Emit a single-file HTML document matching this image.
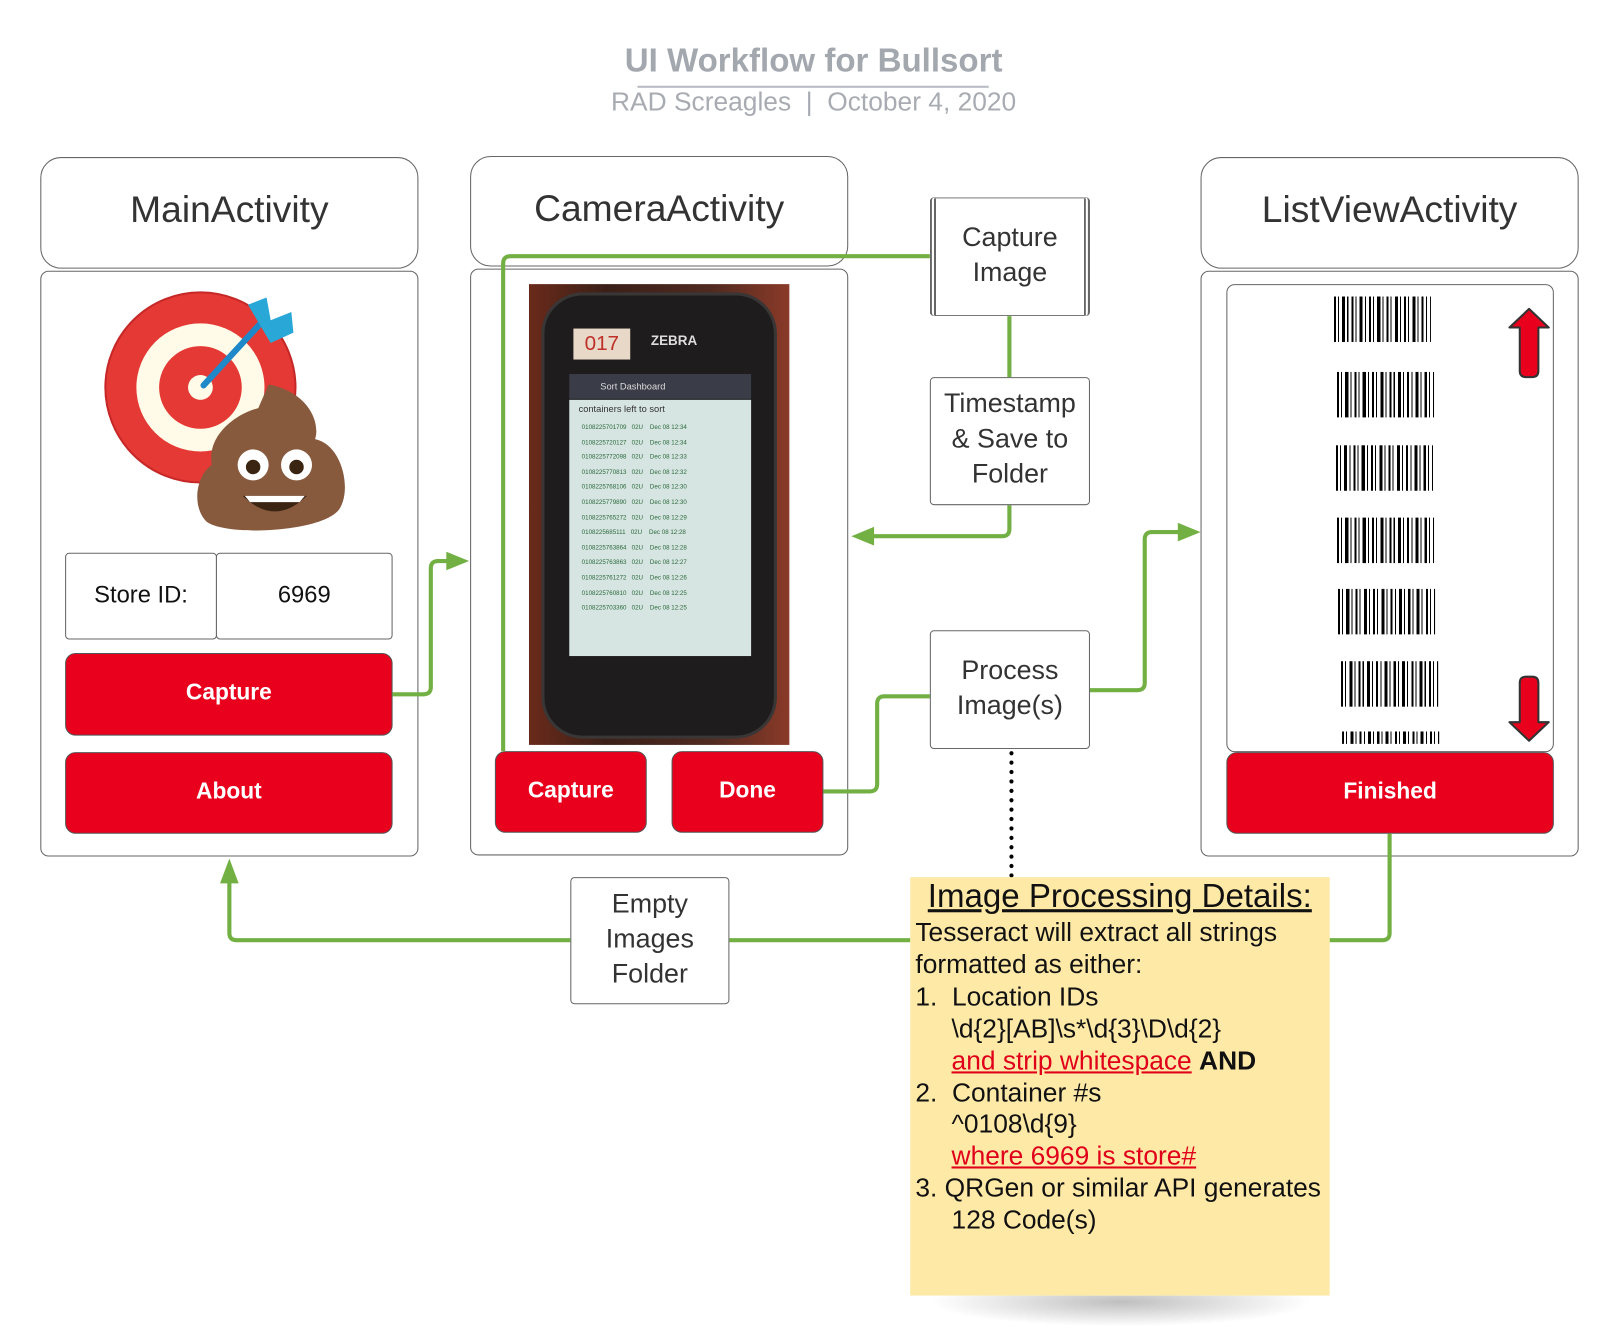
<!DOCTYPE html>
<html><head><meta charset="utf-8">
<style>
html,body{margin:0;padding:0;background:#fff;width:1620px;height:1337px;overflow:hidden;font-family:"Liberation Sans",sans-serif}
#w{position:absolute;left:0;top:0;width:1568px;height:1294px;transform:scale(1.03316);transform-origin:0 0}
.a{position:absolute;box-sizing:border-box}
.hdr{border:1.3px solid #666;border-radius:20px;background:#fff;display:flex;align-items:center;justify-content:center;font-size:36px;color:#333;padding-bottom:6px}
.body{border:1.3px solid #666;border-radius:8px;background:#fff}
.btn{background:#e8001c;border:1.3px solid #555;border-radius:10px;color:#fff;font-weight:bold;font-size:22px;display:flex;align-items:center;justify-content:center;padding-bottom:4px}
.box{border:1.3px solid #666;border-radius:4px;background:#fff;display:flex;align-items:center;justify-content:center;text-align:center;font-size:26px;line-height:34px;color:#333;padding-bottom:6px}
.note div{position:absolute;left:5px;font-size:25.5px;color:#111;white-space:nowrap}
.r{color:#e0001a;text-decoration:underline}
.bc{position:absolute;background:repeating-linear-gradient(90deg,#000 0 2px,#fff 2px 4px,#000 4px 5px,#fff 5px 8px,#000 8px 11px,#fff 11px 13px,#000 13px 14px,#fff 14px 17px)}
</style></head><body><div id="w">

<div class="a" style="left:0;top:40px;width:1575px;text-align:center;font-size:32px;font-weight:bold;color:#a3a7ae">UI Workflow for Bullsort</div>
<div class="a" style="left:617px;top:83px;width:340px;height:2px;background:#b8bcc2"></div>
<div class="a" style="left:0;top:85px;width:1575px;text-align:center;font-size:25.5px;color:#a8acb2">RAD Screagles &nbsp;|&nbsp; October 4, 2020</div>

<!-- Main -->
<div class="a hdr" style="left:39px;top:152px;width:366px;height:108px">MainActivity</div>
<div class="a body" style="left:39px;top:262px;width:366px;height:567px"></div>
<svg class="a" style="left:95px;top:275px" width="250" height="250" viewBox="95 275 250 250">
<circle cx="194" cy="375" r="92" fill="#e53935" stroke="#c62828" stroke-width="2"/>
<circle cx="194" cy="375" r="62" fill="#fffbe8"/>
<circle cx="194" cy="375" r="40" fill="#e53935"/>
<circle cx="194" cy="375" r="12" fill="#fffbe8"/>
<line x1="197" y1="373" x2="255" y2="310" stroke="#1e88c8" stroke-width="6" stroke-linecap="round"/>
<path d="M240 295 L258 288 L262 310 L282 302 L284 322 L262 332 Z" fill="#29a8d8"/>
<path d="M260 372 C300 380 310 410 305 425 C330 430 340 470 330 490 C320 515 220 520 200 505 C185 490 190 460 205 450 C200 420 230 400 250 395 Z" fill="#875a3e"/>
<circle cx="245" cy="450" r="15" fill="#fff"/><circle cx="287" cy="450" r="15" fill="#fff"/>
<circle cx="245" cy="452" r="7" fill="#3a2412"/><circle cx="287" cy="452" r="7" fill="#3a2412"/>
<path d="M235 480 Q266 510 297 480 Z" fill="#3a2412"/><path d="M237 480 L295 480 L290 486 L242 486Z" fill="#fff"/>
</svg>
<div class="a box" style="left:63px;top:535px;width:147px;height:84px;font-size:23px;color:#111;padding-bottom:4px">Store ID:</div>
<div class="a box" style="left:209px;top:535px;width:171px;height:84px;font-size:23px;color:#111;padding-bottom:4px">6969</div>
<div class="a btn" style="left:63px;top:632px;width:317px;height:80px">Capture</div>
<div class="a btn" style="left:63px;top:728px;width:317px;height:79px">About</div>

<!-- Camera -->
<div class="a hdr" style="left:455px;top:151px;width:366px;height:107px">CameraActivity</div>
<div class="a body" style="left:455px;top:260px;width:366px;height:568px"></div>
<div class="a" style="left:512px;top:275px;width:252px;height:446px;background:linear-gradient(90deg,#6a2a1a,#3a2018 30%,#502a20 70%,#8a3a28)"></div>
<div class="a" style="left:524px;top:283px;width:228px;height:432px;background:#1e1c1c;border-radius:40px;border:3px solid #3a3636"></div>
<div class="a" style="left:555px;top:318px;width:55px;height:30px;background:#e8d8c8;color:#c0302a;font-size:20px;text-align:center;line-height:30px">017</div>
<div class="a" style="left:630px;top:322px;color:#ddd;font-size:13px;font-weight:bold">ZEBRA</div>
<div class="a" style="left:551px;top:362px;width:176px;height:24px;background:#3a3c48;color:#ddd;font-size:9px;line-height:24px;padding-left:30px">Sort Dashboard</div>
<div class="a" style="left:551px;top:387px;width:176px;height:248px;background:#d6e4e2;font-size:6px;color:#2a6a3a;line-height:14.6px;padding:20px 0 0 12px">
0108225701709 &nbsp; 02U &nbsp;&nbsp; Dec 08 12:34<br>0108225720127 &nbsp; 02U &nbsp;&nbsp; Dec 08 12:34<br>0108225772098 &nbsp; 02U &nbsp;&nbsp; Dec 08 12:33<br>0108225770813 &nbsp; 02U &nbsp;&nbsp; Dec 08 12:32<br>0108225768106 &nbsp; 02U &nbsp;&nbsp; Dec 08 12:30<br>0108225779890 &nbsp; 02U &nbsp;&nbsp; Dec 08 12:30<br>0108225765272 &nbsp; 02U &nbsp;&nbsp; Dec 08 12:29<br>0108225685111 &nbsp; 02U &nbsp;&nbsp; Dec 08 12:28<br>0108225763864 &nbsp; 02U &nbsp;&nbsp; Dec 08 12:28<br>0108225763863 &nbsp; 02U &nbsp;&nbsp; Dec 08 12:27<br>0108225761272 &nbsp; 02U &nbsp;&nbsp; Dec 08 12:26<br>0108225760810 &nbsp; 02U &nbsp;&nbsp; Dec 08 12:25<br>0108225703360 &nbsp; 02U &nbsp;&nbsp; Dec 08 12:25</div>
<div class="a" style="left:560px;top:391px;font-size:9px;color:#333">containers left to sort</div>
<div class="a btn" style="left:479px;top:727px;width:147px;height:79px">Capture</div>
<div class="a btn" style="left:650px;top:727px;width:147px;height:79px">Done</div>

<!-- ListView -->
<div class="a hdr" style="left:1162px;top:152px;width:366px;height:108px">ListViewActivity</div>
<div class="a body" style="left:1162px;top:262px;width:366px;height:567px"></div>
<div class="a" style="left:1187px;top:275px;width:317px;height:453px;border:1.3px solid #666;border-radius:8px;background:#fff"></div>
<div class="bc" style="left:1291px;top:287px;width:94px;height:44px"></div>
<div class="bc" style="left:1294px;top:360px;width:94px;height:44px"></div>
<div class="bc" style="left:1293px;top:431px;width:94px;height:44px"></div>
<div class="bc" style="left:1294px;top:501px;width:94px;height:44px"></div>
<div class="bc" style="left:1295px;top:570px;width:94px;height:44px"></div>
<div class="bc" style="left:1298px;top:640px;width:94px;height:44px"></div>
<div class="bc" style="left:1299px;top:708px;width:94px;height:12px"></div>
<svg class="a" style="left:1455px;top:295px" width="50" height="430">
<path d="M25 4 L44 22 L34 22 L34 64 Q34 70 28 70 L22 70 Q16 70 16 64 L16 22 L6 22 Z" fill="#e8001c" stroke="#333" stroke-width="2" stroke-linejoin="round"/>
<path d="M25 422 L44 404 L34 404 L34 366 Q34 360 28 360 L22 360 Q16 360 16 366 L16 404 L6 404 Z" fill="#e8001c" stroke="#333" stroke-width="2" stroke-linejoin="round"/>
</svg>
<div class="a btn" style="left:1187px;top:728px;width:317px;height:79px">Finished</div>

<!-- connectors -->
<svg class="a" style="left:0;top:0" width="1568" height="1294">
<g fill="none" stroke="#72b043" stroke-width="4" stroke-linejoin="round">
<path d="M380 672 L410 672 Q417 672 417 665 L417 550 Q417 543 424 543 L440 543"/>
<path d="M900 248 L494 248 Q487 248 487 255 L487 727"/>
<path d="M977 306 L977 365"/>
<path d="M977 489 L977 512 Q977 519 970 519 L838 519"/>
<path d="M797 766 L842 766 Q849 766 849 759 L849 681 Q849 674 856 674 L900 674"/>
<path d="M1055 668 L1101 668 Q1108 668 1108 661 L1108 522 Q1108 515 1115 515 L1148 515"/>
<path d="M1345 807 L1345 903 Q1345 910 1338 910 L1287 910"/>
<path d="M881 910 L706 910"/>
<path d="M552 910 L229 910 Q222 910 222 903 L222 845"/>
</g>
<g fill="#72b043">
<path d="M454 543 L432 534 L432 552 Z"/>
<path d="M824 519 L846 510 L846 528 Z"/>
<path d="M1162 515 L1140 506 L1140 524 Z"/>
<path d="M222 831 L213 855 L231 855 Z"/>
</g>
<line x1="979" y1="729" x2="979" y2="849" stroke="#000" stroke-width="4" stroke-dasharray="0.1 9" stroke-linecap="round"/>
</svg>

<div class="a box" style="left:900px;top:191px;width:155px;height:115px;border-left:6px double #666;border-right:6px double #666">Capture<br>Image</div>
<div class="a box" style="left:900px;top:365px;width:155px;height:124px">Timestamp<br>&amp; Save to<br>Folder</div>
<div class="a box" style="left:900px;top:610px;width:155px;height:115px">Process<br>Image(s)</div>
<div class="a box" style="left:552px;top:849px;width:154px;height:123px">Empty<br>Images<br>Folder</div>

<div class="a" style="left:900px;top:1254px;width:370px;height:30px;background:radial-gradient(ellipse at 50% 20%,rgba(0,0,0,0.25),rgba(0,0,0,0) 70%)"></div>
<div class="a note" style="left:881px;top:849px;width:406px;height:405px;background:#fee9a7">
<div style="left:17px;top:0px;font-size:32px;text-decoration:underline">Image Processing Details:</div>
<div style="top:40px">Tesseract will extract all strings</div>
<div style="top:71px">formatted as either:</div>
<div style="top:102px">1.&nbsp; Location IDs</div>
<div style="left:40px;top:133px">\d{2}[AB]\s*\d{3}\D\d{2}</div>
<div style="left:40px;top:164px"><span class="r">and strip whitespace</span> <b>AND</b></div>
<div style="top:195px">2.&nbsp; Container #s</div>
<div style="left:40px;top:225px">^0108\d{9}</div>
<div style="left:40px;top:256px"><span class="r">where 6969 is store#</span></div>
<div style="top:287px">3. QRGen or similar API generates</div>
<div style="left:40px;top:318px">128 Code(s)</div>
</div>

</div></body></html>
